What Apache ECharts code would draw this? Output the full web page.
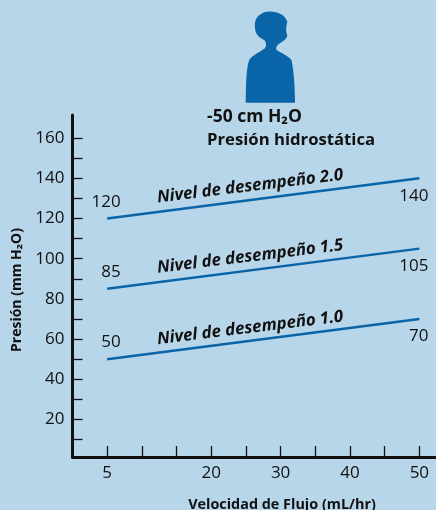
<!DOCTYPE html>
<html>
<head>
<meta charset="utf-8">
<style>
  html, body { margin: 0; padding: 0; background: #b8d6e9; }
  #chart { width: 436px; height: 510px; }
</style>
<script src="https://cdn.jsdelivr.net/npm/echarts@6/dist/echarts.min.js"></script>
</head>
<body>
<div id="chart"></div>
<script>
const flowRange = [5, 50]
const startPressure = [120, 85, 50]
const endPressure = [140, 105, 70]
const levelNames = ['Nivel de desempeño 2.0', 'Nivel de desempeño 1.5', 'Nivel de desempeño 1.0']
const levelAnchorFlow = 25.6
const levelAnchorPressure = [136, 101, 65.5]
const xTicks = [5, 10, 15, 20, 25, 30, 35, 40, 45, 50]
const xLabels = [5, 20, 30, 40, 50]
const yTicks = [10, 20, 30, 40, 50, 60, 70, 80, 90, 100, 110, 120, 130, 140, 150, 160]
const yLabels = [20, 40, 60, 80, 100, 120, 140, 160]

const INK = '#111'
const BLUE = '#0a65a8'
const FONT = '"Open Sans"'

// silueta de la persona, en pixeles de la pagina
const personPath = 'M270 11.5 C262 11.5 255 16 254.8 25 C254.6 33 258 37 264 40 C266.5 42 266.5 46 265 48.3 C260 52 253 55 249.5 59.5 C246.5 66 246 80 245.7 102.7 L295 102.7 C295 88 294 72 291.5 60 C288 55.5 281 53 276.5 50 C275.5 47 277 45 281 42.5 C285 40 287.5 37.5 287.3 35.5 C285.5 31 286 27 287.3 22 C285.5 15 278 11.5 270 11.5 Z'

const numberLabel = { show: true, fontFamily: FONT, fontSize: 17, color: INK, align: 'right' }

const series = []
startPressure.forEach((start, i) => {
  series.push({
    type: 'line',
    symbol: 'none',
    silent: true,
    lineStyle: { color: BLUE, width: 2.5, cap: 'butt' },
    data: [
      { value: [flowRange[0], start], symbol: 'circle', symbolSize: 0, label: { ...numberLabel, position: 'top', offset: [13.5, -3] } },
      { value: [flowRange[1], endPressure[i]], symbol: 'circle', symbolSize: 0, label: { ...numberLabel, position: 'bottom', offset: [9, 4] } }
    ],
    showSymbol: true,
    label: { formatter: p => p.value[1] }
  })
  series.push({
    type: 'scatter',
    symbolSize: 0,
    silent: true,
    itemStyle: { opacity: 1 },
    data: [[levelAnchorFlow, levelAnchorPressure[i]]],
    label: {
      show: true,
      position: 'inside',
      formatter: levelNames[i],
      rotate: 7,
      fontFamily: FONT,
      fontStyle: 'italic',
      fontWeight: 'bold',
      fontSize: 16.8,
      color: INK
    }
  })
})

// el componente graphic no tiene tipo path, por eso va como serie custom
series.push({
  type: 'custom',
  coordinateSystem: 'none',
  silent: true,
  data: [0],
  renderItem: () => ({
    type: 'path',
    shape: { pathData: personPath, x: 245.7, y: 11.5, width: 49.3, height: 91.2 },
    style: { fill: BLUE }
  })
})

const chart = echarts.init(document.getElementById('chart'), null, { renderer: 'canvas' })

chart.setOption({
  animation: false,
  backgroundColor: '#b8d6e9',
  grid: { left: 72.5, top: 115, right: 0, height: 342, outerBoundsMode: 'none' },
  xAxis: {
    type: 'value',
    min: 0,
    max: 52.4,
    splitLine: { show: false },
    axisLine: { onZero: false, lineStyle: { color: INK, width: 3 } },
    axisTick: { customValues: xTicks, inside: true, length: 11, lineStyle: { color: INK, width: 1.3 } },
    axisLabel: { customValues: xLabels, margin: 7.5, fontFamily: FONT, fontSize: 17, color: INK }
  },
  yAxis: {
    type: 'value',
    min: 1.3,
    max: 171.5,
    name: 'Presión (mm H₂O)',
    nameLocation: 'middle',
    nameGap: 48,
    nameTextStyle: { fontFamily: FONT, fontWeight: 'bold', fontSize: 14, color: INK, padding: [0, 8, 0, 0] },
    splitLine: { show: false },
    axisLine: { onZero: false, lineStyle: { color: INK, width: 3 } },
    axisTick: { customValues: yTicks, inside: true, length: 10, lineStyle: { color: INK, width: 1.3 } },
    axisLabel: { customValues: yLabels, margin: 8, fontFamily: FONT, fontSize: 17, color: INK }
  },
  graphic: [
    {
      type: 'text', x: 207, y: 117,
      style: { text: '-50 cm H₂O', fontFamily: FONT, fontWeight: 'bold', fontSize: 17.5, fill: INK, verticalAlign: 'middle' }
    },
    {
      type: 'text', x: 207, y: 140,
      style: { text: 'Presión hidrostática', fontFamily: FONT, fontWeight: 'bold', fontSize: 16.7, fill: INK, verticalAlign: 'middle' }
    },
    {
      type: 'text', x: 282, y: 505,
      style: { text: 'Velocidad de Flujo (mL/hr)', fontFamily: FONT, fontWeight: 'bold', fontSize: 14.4, fill: INK, align: 'center', verticalAlign: 'middle' }
    }
  ],
  series
})

window.addEventListener('resize', () => chart.resize())
</script>
</body>
</html>
